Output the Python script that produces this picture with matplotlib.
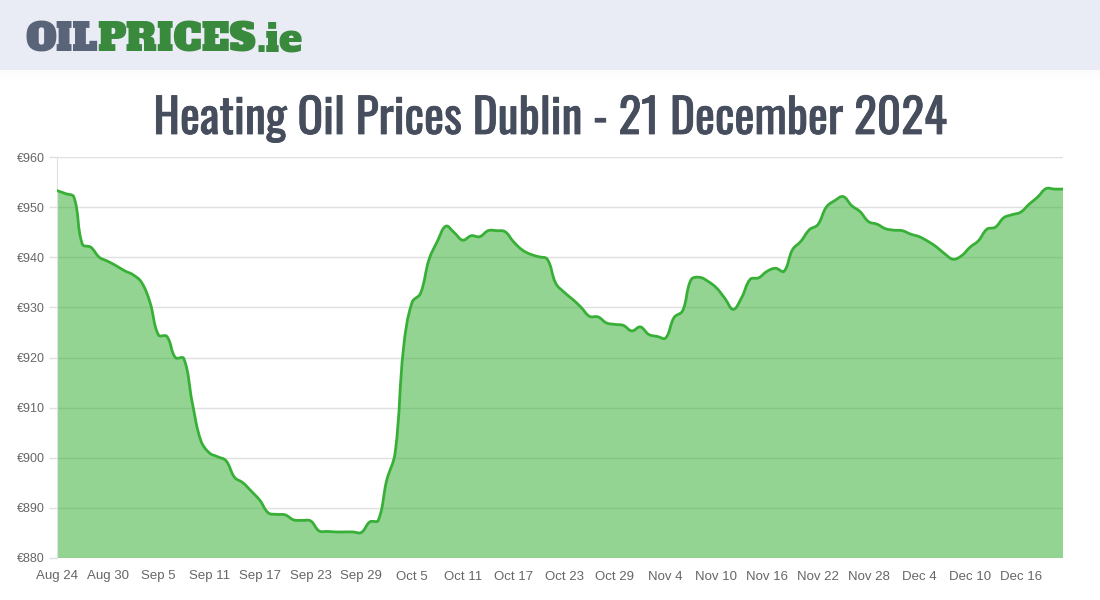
import numpy as np
import matplotlib
matplotlib.use('Agg')
import matplotlib.pyplot as plt
from matplotlib.path import Path
from matplotlib.patches import PathPatch, Rectangle
from matplotlib import font_manager as fm
import matplotlib.patheffects as pe

# ---------------- data ----------------
prices = [
    953.3, 952.7, 952.0, 942.6, 942.0, 940.0, 939.2, 938.3, 937.3, 936.5,
    935.0, 931.0, 924.5, 924.2, 920.0, 919.8, 911.0, 903.5, 901.0, 900.2,
    899.4, 896.1, 895.0, 893.3, 891.5, 889.0, 888.7, 888.6, 887.6, 887.5,
    887.4, 885.4, 885.3, 885.2, 885.2, 885.2, 885.1, 887.2, 887.5, 895.5,
    901.0, 922.0, 931.0, 932.8, 939.5, 943.2, 946.2, 944.9, 943.4, 944.3,
    944.1, 945.3, 945.3, 945.1, 943.1, 941.5, 940.6, 940.1, 939.6, 934.8,
    933.0, 931.6, 930.0, 928.2, 928.1, 926.9, 926.6, 926.4, 925.3, 926.1,
    924.6, 924.2, 923.9, 928.0, 929.3, 935.5, 936.0, 935.2, 933.9, 931.8,
    929.6, 932.0, 935.6, 935.9, 937.2, 937.8, 937.2, 941.5, 943.2, 945.5,
    946.5, 950.0, 951.3, 952.1, 950.3, 949.1, 947.1, 946.6, 945.7, 945.4,
    945.3, 944.6, 944.1, 943.2, 942.1, 940.7, 939.6, 940.3, 942.0, 943.3,
    945.6, 946.0, 947.9, 948.5, 949.0, 950.6, 952.0, 953.7, 953.6, 953.6,
]
x_tick_labels = ['Aug 24', 'Aug 30', 'Sep 5', 'Sep 11', 'Sep 17', 'Sep 23',
                 'Sep 29', 'Oct 5', 'Oct 11', 'Oct 17', 'Oct 23', 'Oct 29',
                 'Nov 4', 'Nov 10', 'Nov 16', 'Nov 22', 'Nov 28', 'Dec 4',
                 'Dec 10', 'Dec 16']
y_ticks = [880, 890, 900, 910, 920, 930, 940, 950, 960]
title_text = 'Heating Oil Prices Dublin - 21 December 2024'
logo_parts = ['OIL', 'PRICES', '.ie']

# ---------------- fonts ----------------
avail = {f.name for f in fm.fontManager.ttflist}
def pick(*names):
    for n in names:
        if n in avail:
            return n
    return 'DejaVu Sans'
title_font = pick('Oswald', 'Barlow Condensed', 'Archivo Narrow', 'Roboto')
tick_font = pick('Liberation Sans', 'Arimo', 'Arial', 'DejaVu Sans')
logo_font = pick('Alfa Slab One', 'Rockwell', 'DejaVu Serif')

W, H = 1100, 600
fig = plt.figure(figsize=(11, 6), dpi=100)
fig.patch.set_facecolor('white')

# header band
fig.patches.append(Rectangle((0, 1 - 70 / H), 1, 70 / H, transform=fig.transFigure,
                             facecolor='#e9ecf4', edgecolor='none', zorder=0))
for i in range(10):
    a = 0.05 * (1 - i / 10)
    fig.patches.append(Rectangle((0, 1 - (71 + i) / H), 1, 1 / H, transform=fig.transFigure,
                                 facecolor='#b0b4c0', alpha=a, edgecolor='none', zorder=0))

# axes
L, R, T, B = 57, 1063, 157, 558
ax = fig.add_axes([L / W, 1 - B / H, (R - L) / W, (B - T) / H])
n = len(prices)
xs = np.arange(n, dtype=float)
ys = np.array(prices, dtype=float)
ax.set_xlim(0, n - 1)
ax.set_ylim(880, 960)

# Chart.js-like bezier spline (tension 0.4) computed in pixel-like space
sx, sy = (R - L) / (n - 1), (B - T) / 80.0
px, py = xs * sx, ys * sy
t = 0.4
cp_prev = np.zeros((n, 2)); cp_next = np.zeros((n, 2))
for i in range(n):
    p0 = np.array([px[max(i - 1, 0)], py[max(i - 1, 0)]])
    p1 = np.array([px[i], py[i]])
    p2 = np.array([px[min(i + 1, n - 1)], py[min(i + 1, n - 1)]])
    d01 = np.hypot(*(p1 - p0)); d12 = np.hypot(*(p2 - p1))
    tot = d01 + d12
    s01 = d01 / tot if tot else 0; s12 = d12 / tot if tot else 0
    cp_prev[i] = p1 - t * s01 * (p2 - p0)
    cp_next[i] = p1 + t * s12 * (p2 - p0)
cp_prev[:, 1] = np.clip(cp_prev[:, 1], 880 * sy, 960 * sy)
cp_next[:, 1] = np.clip(cp_next[:, 1], 880 * sy, 960 * sy)
verts = [(xs[0], ys[0])]
codes = [Path.MOVETO]
for i in range(n - 1):
    verts += [(cp_next[i, 0] / sx, cp_next[i, 1] / sy),
              (cp_prev[i + 1, 0] / sx, cp_prev[i + 1, 1] / sy),
              (xs[i + 1], ys[i + 1])]
    codes += [Path.CURVE4] * 3
line_path = Path(verts, codes)
fill_verts = verts + [(xs[-1], 880), (xs[0], 880), (xs[0], ys[0])]
fill_codes = codes + [Path.LINETO, Path.LINETO, Path.CLOSEPOLY]
fill_path = Path(fill_verts, fill_codes)

green = '#38b038'
ax.add_patch(PathPatch(fill_path, facecolor=green, alpha=0.54, edgecolor='none', zorder=2))
ax.add_patch(PathPatch(line_path, facecolor='none', edgecolor=green, lw=2.0, zorder=3,
                       capstyle='round', joinstyle='round'))

# grid & axes styling
ax.set_yticks(y_ticks)
ax.set_yticklabels([f'€{v}' for v in y_ticks])
ax.set_xticks(np.arange(0, n, 6)[:len(x_tick_labels)])
ax.set_xticklabels(x_tick_labels)
ax.grid(axis='y', color='#e0e0e0', lw=1, zorder=1)
ax.grid(axis='x', visible=False)
ax.set_axisbelow(True)
for s in ['top', 'right', 'bottom']:
    ax.spines[s].set_visible(False)
ax.spines['left'].set_color('#e0e0e0')
ax.tick_params(axis='y', colors='#e0e0e0', length=6, width=1,
               labelcolor='#666666', labelsize=9, pad=3)
ax.tick_params(axis='x', length=0, labelcolor='#666666', labelsize=9.5, pad=9)
for lab in ax.get_xticklabels() + ax.get_yticklabels():
    lab.set_family(tick_font)

# title
fig.canvas.draw()
renderer = fig.canvas.get_renderer()
title_color = '#464e5e'
ttl = fig.text(0.5, 1 - 134 / H, title_text, ha='center', va='baseline',
               fontsize=40, family=title_font, weight=600, color=title_color)
bb = ttl.get_window_extent(renderer)
ttl.set_fontsize(40 * 793 / bb.width)
ttl.set_path_effects([pe.Stroke(linewidth=0.6, foreground=title_color), pe.Normal()])

# logo
x0 = 25
cols = ['#5a6478', '#3a8a3e', '#3a8a3e']
objs = []
for txt, col in zip(logo_parts, cols):
    o = fig.text(x0 / W, 1 - 51 / H, txt, ha='left', va='baseline', fontsize=26,
                 family=logo_font, weight='bold', color=col)
    objs.append(o)
def layout(fs):
    xx = x0
    for o in objs:
        o.set_fontsize(fs)
        o.set_x(xx / W)
        xx += o.get_window_extent(renderer).width
    return xx - x0
wtot = layout(26)
layout(26 * 278 / wtot)

fig.savefig('out.png', dpi=100, facecolor='white')
